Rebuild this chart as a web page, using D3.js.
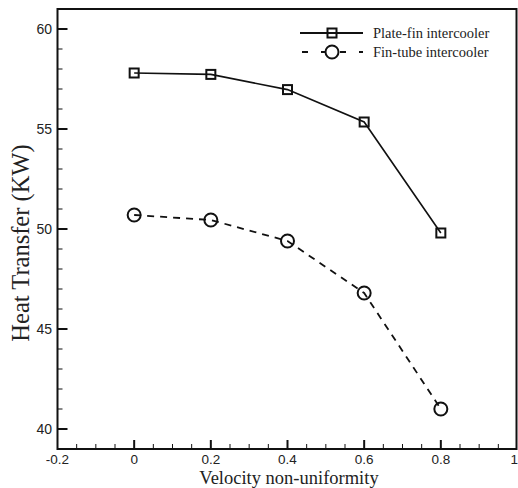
<!DOCTYPE html>
<html>
<head>
<meta charset="utf-8">
<script src="https://cdn.jsdelivr.net/npm/d3@7"></script>
<style>
  html, body { margin: 0; padding: 0; background: #fff; }
  svg { display: block; }
</style>
</head>
<body>
<svg id="chart"></svg>
<script>
// data
const velocity = [0, 0.2, 0.4, 0.6, 0.8];
const plateFin = [57.8, 57.73, 56.97, 55.35, 49.8];
const finTube = [50.7, 50.45, 49.4, 46.8, 41.0];
const xTicks = [-0.2, 0, 0.2, 0.4, 0.6, 0.8, 1];
const yTicks = [40, 45, 50, 55, 60];
const seriesNames = ['Plate-fin intercooler', 'Fin-tube intercooler'];

const width = 518, height = 488;
const plotL = 57.5, plotR = 516.5, plotT = 9, plotB = 449;

const svg = d3.select('#chart')
  .attr('width', width)
  .attr('height', height);

const x = d3.scaleLinear().domain([-0.2, 1]).range([plotL, 517.5]);
const y = d3.scaleLinear().domain([39, 61]).range([plotB, plotT]);

// minor ticks, inward
const minorX = d3.range(-0.2, 1.0001, 0.05).filter(v => Math.abs(Math.round(v * 5) - v * 5) > 1e-6);
const minorY = d3.range(39, 61.001, 1).filter(v => v % 5 !== 0);

const axes = svg.append('g').attr('stroke', '#111');

axes.selectAll('.mx').data(minorX).enter().append('line')
  .attr('x1', d => x(d)).attr('x2', d => x(d))
  .attr('y1', plotB).attr('y2', plotB - 5)
  .attr('stroke-width', 1);
axes.selectAll('.Mx').data(xTicks.filter(d => d > -0.2 && d < 1)).enter().append('line')
  .attr('x1', d => x(d)).attr('x2', d => x(d))
  .attr('y1', plotB).attr('y2', plotB - 9)
  .attr('stroke-width', 2);
axes.selectAll('.my').data(minorY).enter().append('line')
  .attr('x1', plotL).attr('x2', plotL + 5)
  .attr('y1', d => y(d)).attr('y2', d => y(d))
  .attr('stroke-width', 1);
axes.selectAll('.My').data(yTicks).enter().append('line')
  .attr('x1', plotL).attr('x2', plotL + 10)
  .attr('y1', d => y(d)).attr('y2', d => y(d))
  .attr('stroke-width', 2);

// frame
svg.append('rect')
  .attr('x', plotL).attr('y', plotT)
  .attr('width', plotR - plotL).attr('height', plotB - plotT)
  .attr('fill', 'none').attr('stroke', '#111').attr('stroke-width', 2);

// tick labels
svg.append('g').selectAll('text').data(xTicks).enter().append('text')
  .attr('x', d => d === 1 ? 518 : x(d)).attr('y', 464)
  .attr('text-anchor', d => d === 1 ? 'end' : 'middle')
  .attr('font-family', 'Liberation Sans, Arial, sans-serif')
  .attr('font-size', 13.5).attr('fill', '#222')
  .text(d => String(d));

svg.append('g').selectAll('text').data(yTicks).enter().append('text')
  .attr('x', 52).attr('y', d => y(d) + 5)
  .attr('text-anchor', 'end')
  .attr('font-family', 'Liberation Sans, Arial, sans-serif')
  .attr('font-size', 14).attr('fill', '#222')
  .text(d => d);

// axis titles
svg.append('text')
  .attr('x', 289).attr('y', 483.5)
  .attr('text-anchor', 'middle')
  .attr('font-family', 'Liberation Serif, Times New Roman, serif')
  .attr('font-size', 18.5).attr('fill', '#222')
  .text('Velocity non-uniformity');

svg.append('text')
  .attr('transform', 'translate(28.5,243) rotate(-90)')
  .attr('text-anchor', 'middle')
  .attr('font-family', 'Liberation Serif, Times New Roman, serif')
  .attr('font-size', 24.5).attr('fill', '#222')
  .text('Heat Transfer (KW)');

// lines
const line = d3.line().x(d => x(d[0])).y(d => y(d[1]));
const pf = velocity.map((v, i) => [v, plateFin[i]]);
const ft = velocity.map((v, i) => [v, finTube[i]]);

svg.append('path').datum(pf).attr('d', line)
  .attr('fill', 'none').attr('stroke', '#111').attr('stroke-width', 1.6);
svg.append('path').datum(ft).attr('d', line)
  .attr('fill', 'none').attr('stroke', '#111').attr('stroke-width', 1.8)
  .attr('stroke-dasharray', '7,6');

// markers
const sq = 9;
svg.append('g').selectAll('rect').data(pf).enter().append('rect')
  .attr('x', d => x(d[0]) - sq / 2).attr('y', d => y(d[1]) - sq / 2)
  .attr('width', sq).attr('height', sq)
  .attr('fill', 'none').attr('stroke', '#111').attr('stroke-width', 2);
svg.append('g').selectAll('circle').data(ft).enter().append('circle')
  .attr('cx', d => x(d[0])).attr('cy', d => y(d[1])).attr('r', 6.5)
  .attr('fill', 'none').attr('stroke', '#111').attr('stroke-width', 2);

// legend
const legend = svg.append('g');
const lg = [
  { name: seriesNames[0], dash: null, shape: 'square', y: 33 },
  { name: seriesNames[1], dash: '7,6', shape: 'circle', y: 52 }
];
lg.forEach(d => {
  legend.append('line')
    .attr('x1', 300).attr('x2', 363).attr('y1', d.y).attr('y2', d.y)
    .attr('stroke', '#111').attr('stroke-width', 1.8)
    .attr('stroke-dasharray', d.dash ? '6,13' : null)
    .attr('stroke-dashoffset', d.dash ? -2 : null);
  if (d.shape === 'square') {
    legend.append('rect')
      .attr('x', 332 - sq / 2).attr('y', d.y - sq / 2)
      .attr('width', sq).attr('height', sq)
      .attr('fill', 'none').attr('stroke', '#111').attr('stroke-width', 2);
  } else {
    legend.append('circle')
      .attr('cx', 332).attr('cy', d.y).attr('r', 6.5)
      .attr('fill', '#fff').attr('stroke', '#111').attr('stroke-width', 2);
  }
  legend.append('text')
    .attr('x', 373).attr('y', d.y + 4.5)
    .attr('font-family', 'Liberation Serif, Times New Roman, serif')
    .attr('font-size', 14.5).attr('fill', '#222')
    .text(d.name);
});
</script>
</body>
</html>
